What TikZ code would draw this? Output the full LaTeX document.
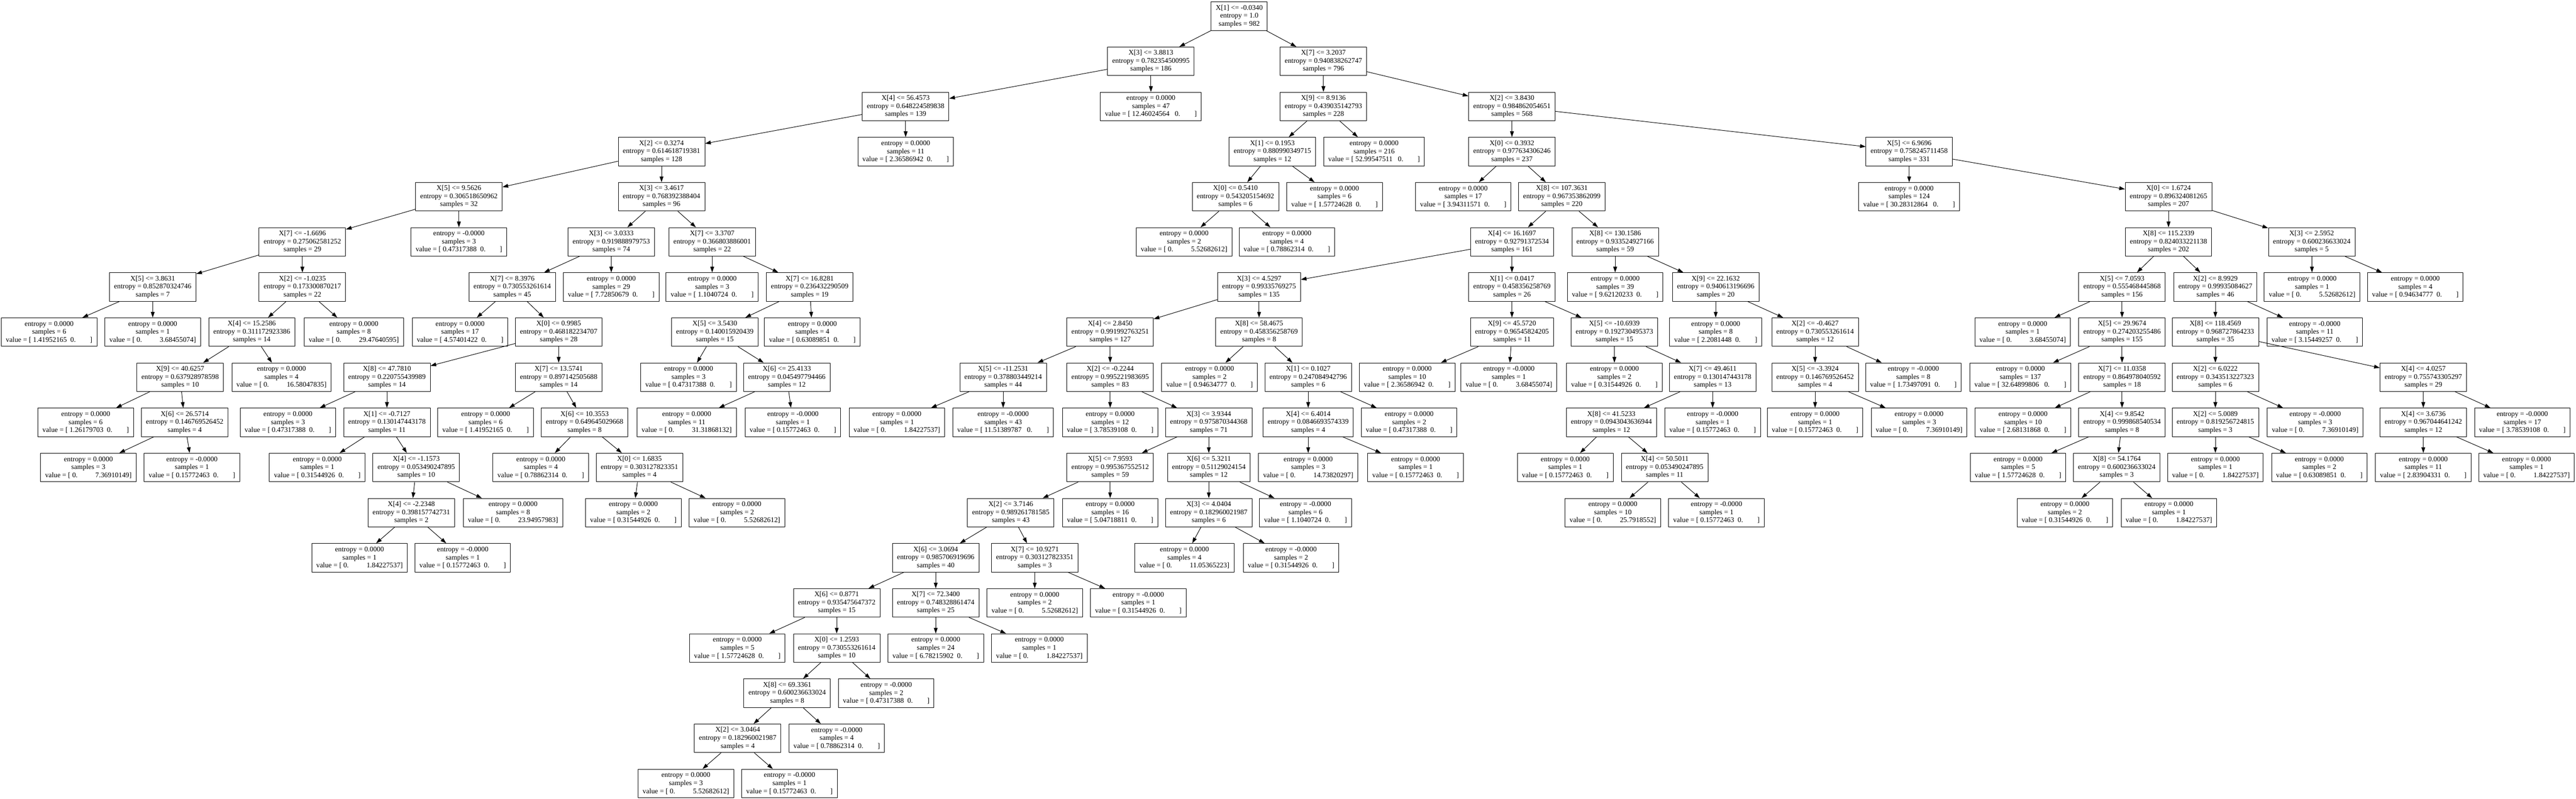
\documentclass[tikz,border=0pt]{standalone}
\usepackage{fontspec}
\setmainfont{Liberation Serif}
\usetikzlibrary{arrows.meta}
\newcommand{\dnode}[4]{X[#1] <= #2\\entropy = #3\\samples = #4}
\newcommand{\lva}[3]{entropy = #1\\samples = #2\\value = [\ #3\ \ 0.\hspace{2em}]}
\newcommand{\lvc}[3]{entropy = #1\\samples = #2\\value = [\ #3\ \ \ 0.\hspace{2em}]}
\newcommand{\lvb}[3]{entropy = #1\\samples = #2\\value = [\ 0.\hspace{2.5em}#3]}
\begin{document}
\begin{tikzpicture}[x=1pt,y=-118.6pt,font=\fontsize{18.7}{21}\selectfont,line join=round,>={Triangle[length=15pt,width=10pt]},
  tnode/.style={draw,rectangle,line width=1.3pt,align=center,inner xsep=12pt,inner ysep=2pt,minimum height=75pt},
  tleaf/.style={tnode}]
\useasboundingbox (0,-0.3583) rectangle (6764,17.340);
% rank 0-4
\node[tnode] (r) at (3254,0) {\dnode{1}{-0.0340}{1.0}{982}};
\node[tnode] (a) at (3022,1) {\dnode{3}{3.8813}{0.782354500995}{186}};
\node[tnode] (b) at (3475,1) {\dnode{7}{3.2037}{0.940838262747}{796}};
\node[tnode] (a1) at (2378,2) {\dnode{4}{56.4573}{0.648224589838}{139}};
\node[tleaf] (a2) at (3022,2) {\lvc{0.0000}{47}{12.46024564}};
\node[tnode] (b1) at (3475,2) {\dnode{9}{8.9136}{0.439035142793}{228}};
\node[tnode] (b2) at (3970,2) {\dnode{2}{3.8430}{0.984862054651}{568}};
\node[tnode] (a1a) at (1737,3) {\dnode{2}{0.3274}{0.614618719381}{128}};
\node[tleaf] (a1b) at (2378,3) {\lva{0.0000}{11}{2.36586942}};
\node[tnode] (b1a) at (3341,3) {\dnode{1}{0.1953}{0.880990349715}{12}};
\node[tleaf] (b1b) at (3608,3) {\lvc{0.0000}{216}{52.99547511}};
\node[tnode] (b2a) at (3970,3) {\dnode{0}{0.3932}{0.977634306246}{237}};
\node[tnode] (b2b) at (5013,3) {\dnode{5}{6.9696}{0.758245711458}{331}};
\node[tnode] (a1a1) at (1205,4) {\dnode{5}{9.5626}{0.306518650962}{32}};
\node[tnode] (a1a2) at (1737,4) {\dnode{3}{3.4617}{0.768392388404}{96}};
\node[tnode] (b1a1) at (3244,4) {\dnode{0}{0.5410}{0.543205154692}{6}};
\node[tleaf] (b1a2) at (3504,4) {\lva{0.0000}{6}{1.57724628}};
\node[tleaf] (b2a1) at (3842,4) {\lva{0.0000}{17}{3.94311571}};
\node[tnode] (b2a2) at (4101,4) {\dnode{8}{107.3631}{0.967353862099}{220}};
\node[tleaf] (b2b1) at (5013,4) {\lvc{0.0000}{124}{30.28312864}};
\node[tnode] (b2b2) at (5694,4) {\dnode{0}{1.6724}{0.896324081265}{207}};
% rank 5
\node[tnode] (c1) at (794,5) {\dnode{7}{-1.6696}{0.275062581252}{29}};
\node[tleaf] (c2) at (1205,5) {\lva{-0.0000}{3}{0.47317388}};
\node[tnode] (c3) at (1605,5) {\dnode{3}{3.0333}{0.919888979753}{74}};
\node[tnode] (c4) at (1870,5) {\dnode{7}{3.3707}{0.366803886001}{22}};
\node[tleaf] (c5) at (3109,5) {\lvb{0.0000}{2}{5.52682612}};
\node[tleaf] (c6) at (3379,5) {\lva{0.0000}{4}{0.78862314}};
\node[tnode] (c7) at (3970,5) {\dnode{4}{16.1697}{0.92791372534}{161}};
\node[tnode] (c8) at (4241,5) {\dnode{8}{130.1586}{0.933524927166}{59}};
\node[tnode] (c9) at (5694,5) {\dnode{8}{115.2339}{0.824033221138}{202}};
\node[tnode] (c10) at (6070,5) {\dnode{3}{2.5952}{0.600236633024}{5}};
% rank 6
\node[tnode] (d1) at (401,6) {\dnode{5}{3.8631}{0.852870324746}{7}};
\node[tnode] (d2) at (794,6) {\dnode{2}{-1.0235}{0.173300870217}{22}};
\node[tnode] (d3) at (1345,6) {\dnode{7}{8.3976}{0.730553261614}{45}};
\node[tleaf] (d4) at (1605,6) {\lva{0.0000}{29}{7.72850679}};
\node[tleaf] (d5) at (1870,6) {\lva{0.0000}{3}{1.1040724}};
\node[tnode] (d6) at (2126,6) {\dnode{7}{16.8281}{0.236432290509}{19}};
\node[tnode] (d7) at (3306,6) {\dnode{3}{4.5297}{0.99335769275}{135}};
\node[tnode] (d8) at (3970,6) {\dnode{1}{0.0417}{0.458356258769}{26}};
\node[tleaf] (d9) at (4241,6) {\lva{0.0000}{39}{9.62120233}};
\node[tnode] (d10) at (4505,6) {\dnode{9}{22.1632}{0.940613196696}{20}};
\node[tnode] (d11) at (5572,6) {\dnode{5}{7.0593}{0.555468445868}{156}};
\node[tnode] (d12) at (5817,6) {\dnode{2}{8.9929}{0.99935084627}{46}};
\node[tleaf] (d13) at (6071,6) {\lvb{0.0000}{1}{5.52682612}};
\node[tleaf] (d14) at (6342,6) {\lva{0.0000}{4}{0.94634777}};
% rank 7
\node[tleaf] (e1) at (129,7) {\lva{0.0000}{6}{1.41952165}};
\node[tleaf] (e2) at (401,7) {\lvb{0.0000}{1}{3.68455074}};
\node[tnode] (e3) at (661,7) {\dnode{4}{15.2586}{0.311172923386}{14}};
\node[tleaf] (e4) at (929,7) {\lvb{0.0000}{8}{29.47640595}};
\node[tleaf] (e5) at (1208,7) {\lva{0.0000}{17}{4.57401422}};
\node[tnode] (e6) at (1467,7) {\dnode{0}{0.9985}{0.468182234707}{28}};
\node[tnode] (e7) at (1877,7) {\dnode{5}{3.5430}{0.140015920439}{15}};
\node[tleaf] (e8) at (2133,7) {\lva{0.0000}{4}{0.63089851}};
\node[tnode] (e9) at (2915,7) {\dnode{4}{2.8450}{0.991992763251}{127}};
\node[tnode] (e10) at (3306,7) {\dnode{8}{58.4675}{0.458356258769}{8}};
\node[tnode] (e11) at (3970,7) {\dnode{9}{45.5720}{0.96545824205}{11}};
\node[tnode] (e12) at (4239,7) {\dnode{5}{-10.6939}{0.192730495373}{15}};
\node[tleaf] (e13) at (4505,7) {\lva{0.0000}{8}{2.2081448}};
\node[tnode] (e14) at (4766,7) {\dnode{2}{-0.4627}{0.730553261614}{12}};
\node[tleaf] (e15) at (5311,7) {\lvb{0.0000}{1}{3.68455074}};
\node[tnode] (e16) at (5572,7) {\dnode{5}{29.9674}{0.274203255486}{155}};
\node[tnode] (e17) at (5817,7) {\dnode{8}{118.4569}{0.968727864233}{35}};
\node[tleaf] (e18) at (6078,7) {\lva{-0.0000}{11}{3.15449257}};
% rank 8
\node[tnode] (f1) at (473,8) {\dnode{9}{40.6257}{0.637928978598}{10}};
\node[tleaf] (f2) at (739,8) {\lvb{0.0000}{4}{16.58047835}};
\node[tnode] (f3) at (1016,8) {\dnode{8}{47.7810}{0.220755439989}{14}};
\node[tnode] (f4) at (1467,8) {\dnode{7}{13.5741}{0.897142505688}{14}};
\node[tleaf] (f5) at (1808,8) {\lva{0.0000}{3}{0.47317388}};
\node[tnode] (f6) at (2066,8) {\dnode{6}{25.4133}{0.045497794466}{12}};
\node[tnode] (f7) at (2634,8) {\dnode{5}{-11.2531}{0.378803449214}{44}};
\node[tnode] (f8) at (2915,8) {\dnode{2}{-0.2244}{0.995221983695}{83}};
\node[tleaf] (f9) at (3176,8) {\lva{0.0000}{2}{0.94634777}};
\node[tnode] (f10) at (3435,8) {\dnode{1}{0.1027}{0.247084942796}{6}};
\node[tleaf] (f11) at (3695,8) {\lva{0.0000}{10}{2.36586942}};
\node[tleaf] (f12) at (3962,8) {\lvb{-0.0000}{1}{3.68455074}};
\node[tleaf] (f13) at (4239,8) {\lva{0.0000}{2}{0.31544926}};
\node[tnode] (f14) at (4497,8) {\dnode{7}{49.4611}{0.130147443178}{13}};
\node[tnode] (f15) at (4766,8) {\dnode{5}{-3.3924}{0.146769526452}{4}};
\node[tleaf] (f16) at (5024,8) {\lva{-0.0000}{8}{1.73497091}};
\node[tleaf] (f17) at (5305,8) {\lvc{0.0000}{137}{32.64899806}};
\node[tnode] (f18) at (5572,8) {\dnode{7}{11.0358}{0.864978040592}{18}};
\node[tnode] (f19) at (5817,8) {\dnode{2}{6.0222}{0.343513227323}{6}};
\node[tnode] (f20) at (6363,8) {\dnode{4}{4.0257}{0.755743305297}{29}};
% rank 9
\node[tleaf] (g1) at (225,9) {\lva{0.0000}{6}{1.26179703}};
\node[tnode] (g2) at (485,9) {\dnode{6}{26.5714}{0.146769526452}{4}};
\node[tleaf] (g3) at (756,9) {\lva{0.0000}{3}{0.47317388}};
\node[tnode] (g4) at (1016,9) {\dnode{1}{-0.7127}{0.130147443178}{11}};
\node[tleaf] (g5) at (1275,9) {\lva{0.0000}{6}{1.41952165}};
\node[tnode] (g6) at (1535,9) {\dnode{6}{10.3553}{0.649645029668}{8}};
\node[tleaf] (g7) at (1803,9) {\lvb{0.0000}{11}{31.31868132}};
\node[tleaf] (g8) at (2082,9) {\lva{-0.0000}{1}{0.15772463}};
\node[tleaf] (g9) at (2355,9) {\lvb{0.0000}{1}{1.84227537}};
\node[tleaf] (g10) at (2634,9) {\lvc{-0.0000}{43}{11.51389787}};
\node[tleaf] (g11) at (2915,9) {\lva{0.0000}{12}{3.78539108}};
\node[tnode] (g12) at (3174,9) {\dnode{3}{3.9344}{0.975870344368}{71}};
\node[tnode] (g13) at (3435,9) {\dnode{4}{6.4014}{0.0846693574339}{4}};
\node[tleaf] (g14) at (3700,9) {\lva{0.0000}{2}{0.47317388}};
\node[tnode] (g15) at (4231,9) {\dnode{8}{41.5233}{0.0943043636944}{12}};
\node[tleaf] (g16) at (4497,9) {\lva{-0.0000}{1}{0.15772463}};
\node[tleaf] (g17) at (4766,9) {\lva{0.0000}{1}{0.15772463}};
\node[tleaf] (g18) at (5039,9) {\lvb{0.0000}{3}{7.36910149}};
\node[tleaf] (g19) at (5312,9) {\lva{0.0000}{10}{2.68131868}};
\node[tnode] (g20) at (5572,9) {\dnode{4}{9.8542}{0.999868540534}{8}};
\node[tnode] (g21) at (5817,9) {\dnode{2}{5.0089}{0.819256724815}{3}};
\node[tleaf] (g22) at (6079,9) {\lvb{-0.0000}{3}{7.36910149}};
\node[tnode] (g23) at (6363,9) {\dnode{4}{3.6736}{0.967044641242}{12}};
\node[tleaf] (g24) at (6623,9) {\lva{-0.0000}{17}{3.78539108}};
% rank 10
\node[tleaf] (h1) at (232,10) {\lvb{0.0000}{3}{7.36910149}};
\node[tleaf] (h2) at (504,10) {\lva{-0.0000}{1}{0.15772463}};
\node[tleaf] (h3) at (833,10) {\lva{0.0000}{1}{0.31544926}};
\node[tnode] (h4) at (1093,10) {\dnode{4}{-1.1573}{0.053490247895}{10}};
\node[tleaf] (h5) at (1420,10) {\lva{0.0000}{4}{0.78862314}};
\node[tnode] (h6) at (1679,10) {\dnode{0}{1.6835}{0.303127823351}{4}};
\node[tnode] (h7) at (2915,10) {\dnode{5}{7.9593}{0.995367552512}{59}};
\node[tnode] (h8) at (3174,10) {\dnode{6}{5.3211}{0.51129024154}{12}};
\node[tleaf] (h9) at (3435,10) {\lvb{0.0000}{3}{14.73820297}};
\node[tleaf] (h10) at (3717,10) {\lva{0.0000}{1}{0.15772463}};
\node[tleaf] (h11) at (4110,10) {\lva{0.0000}{1}{0.15772463}};
\node[tnode] (h12) at (4371,10) {\dnode{4}{50.5011}{0.053490247895}{11}};
\node[tleaf] (h13) at (5299,10) {\lva{0.0000}{5}{1.57724628}};
\node[tnode] (h14) at (5558,10) {\dnode{8}{54.1764}{0.600236633024}{3}};
\node[tleaf] (h15) at (5817,10) {\lvb{0.0000}{1}{1.84227537}};
\node[tleaf] (h16) at (6090,10) {\lva{0.0000}{2}{0.63089851}};
\node[tleaf] (h17) at (6363,10) {\lva{0.0000}{11}{2.83904331}};
\node[tleaf] (h18) at (6634,10) {\lvb{0.0000}{1}{1.84227537}};
% rank 11-17
\node[tnode] (i1) at (1080,11) {\dnode{4}{-2.2348}{0.398157742731}{2}};
\node[tleaf] (i2) at (1347,11) {\lvb{0.0000}{8}{23.94957983}};
\node[tleaf] (i3) at (1663,11) {\lva{0.0000}{2}{0.31544926}};
\node[tleaf] (i4) at (1935,11) {\lvb{0.0000}{2}{5.52682612}};
\node[tnode] (i5) at (2654,11) {\dnode{2}{3.7146}{0.989261781585}{43}};
\node[tleaf] (i6) at (2915,11) {\lva{0.0000}{16}{5.04718811}};
\node[tnode] (i7) at (3174,11) {\dnode{3}{4.0404}{0.182960021987}{6}};
\node[tleaf] (i8) at (3428,11) {\lva{-0.0000}{6}{1.1040724}};
\node[tleaf] (i9) at (4235,11) {\lvb{0.0000}{10}{25.7918552}};
\node[tleaf] (i10) at (4507,11) {\lva{-0.0000}{1}{0.15772463}};
\node[tleaf] (i11) at (5422,11) {\lva{0.0000}{2}{0.31544926}};
\node[tleaf] (i12) at (5695,11) {\lvb{0.0000}{1}{1.84227537}};
\node[tleaf] (j1) at (944,12) {\lvb{0.0000}{1}{1.84227537}};
\node[tleaf] (j2) at (1215,12) {\lva{-0.0000}{1}{0.15772463}};
\node[tnode] (j3) at (2457,12) {\dnode{6}{3.0694}{0.985706919696}{40}};
\node[tnode] (j4) at (2717,12) {\dnode{7}{10.9271}{0.303127823351}{3}};
\node[tleaf] (j5) at (3110,12) {\lvb{0.0000}{4}{11.05365223}};
\node[tleaf] (j6) at (3390,12) {\lva{-0.0000}{2}{0.31544926}};
\node[tnode] (k1) at (2197,13) {\dnode{6}{0.8771}{0.935475647372}{15}};
\node[tnode] (k2) at (2457,13) {\dnode{7}{72.3400}{0.748328861474}{25}};
\node[tleaf] (k3) at (2717,13) {\lvb{0.0000}{2}{5.52682612}};
\node[tleaf] (k4) at (2989,13) {\lva{-0.0000}{1}{0.31544926}};
\node[tleaf] (l1) at (1936,14) {\lva{0.0000}{5}{1.57724628}};
\node[tnode] (l2) at (2197,14) {\dnode{0}{1.2593}{0.730553261614}{10}};
\node[tleaf] (l3) at (2457,14) {\lva{0.0000}{24}{6.78215902}};
\node[tleaf] (l4) at (2729,14) {\lvb{0.0000}{1}{1.84227537}};
\node[tnode] (m1) at (2067,15) {\dnode{8}{69.3361}{0.600236633024}{8}};
\node[tleaf] (m2) at (2327,15) {\lva{-0.0000}{2}{0.47317388}};
\node[tnode] (n1) at (1937,16) {\dnode{2}{3.0464}{0.182960021987}{4}};
\node[tleaf] (n2) at (2197,16) {\lva{-0.0000}{4}{0.78862314}};
\node[tleaf] (o1) at (1801,17) {\lvb{0.0000}{3}{5.52682612}};
\node[tleaf] (o2) at (2073,17) {\lva{-0.0000}{1}{0.15772463}};
% edges
\foreach \p/\c in {r/a,r/b,a/a1,a/a2,b/b1,b/b2,a1/a1a,a1/a1b,b1/b1a,b1/b1b,b2/b2a,b2/b2b,
  a1a/a1a1,a1a/a1a2,b1a/b1a1,b1a/b1a2,b2a/b2a1,b2a/b2a2,b2b/b2b1,b2b/b2b2,
  a1a1/c1,a1a1/c2,a1a2/c3,a1a2/c4,b1a1/c5,b1a1/c6,b2a2/c7,b2a2/c8,b2b2/c9,b2b2/c10,
  c1/d1,c1/d2,c3/d3,c3/d4,c4/d5,c4/d6,c7/d7,c7/d8,c8/d9,c8/d10,c9/d11,c9/d12,c10/d13,c10/d14,
  d1/e1,d1/e2,d2/e3,d2/e4,d3/e5,d3/e6,d6/e7,d6/e8,d7/e9,d7/e10,d8/e11,d8/e12,d10/e13,d10/e14,d11/e15,d11/e16,d12/e17,d12/e18,
  e3/f1,e3/f2,e6/f3,e6/f4,e7/f5,e7/f6,e9/f7,e9/f8,e10/f9,e10/f10,e11/f11,e11/f12,e12/f13,e12/f14,e14/f15,e14/f16,e16/f17,e16/f18,e17/f19,e17/f20,
  f1/g1,f1/g2,f3/g3,f3/g4,f4/g5,f4/g6,f6/g7,f6/g8,f7/g9,f7/g10,f8/g11,f8/g12,f10/g13,f10/g14,f14/g15,f14/g16,f15/g17,f15/g18,f18/g19,f18/g20,f19/g21,f19/g22,f20/g23,f20/g24,
  g2/h1,g2/h2,g4/h3,g4/h4,g6/h5,g6/h6,g12/h7,g12/h8,g13/h9,g13/h10,g15/h11,g15/h12,g20/h13,g20/h14,g21/h15,g21/h16,g23/h17,g23/h18,
  h4/i1,h4/i2,h6/i3,h6/i4,h7/i5,h7/i6,h8/i7,h8/i8,h12/i9,h12/i10,h14/i11,h14/i12,
  i1/j1,i1/j2,i5/j3,i5/j4,i7/j5,i7/j6,j3/k1,j3/k2,j4/k3,j4/k4,k1/l1,k1/l2,k2/l3,k2/l4,
  l2/m1,l2/m2,m1/n1,m1/n2,n1/o1,n1/o2}
  \draw[->,line width=1.3pt] (\p) -- (\c);
\end{tikzpicture}
\end{document}
